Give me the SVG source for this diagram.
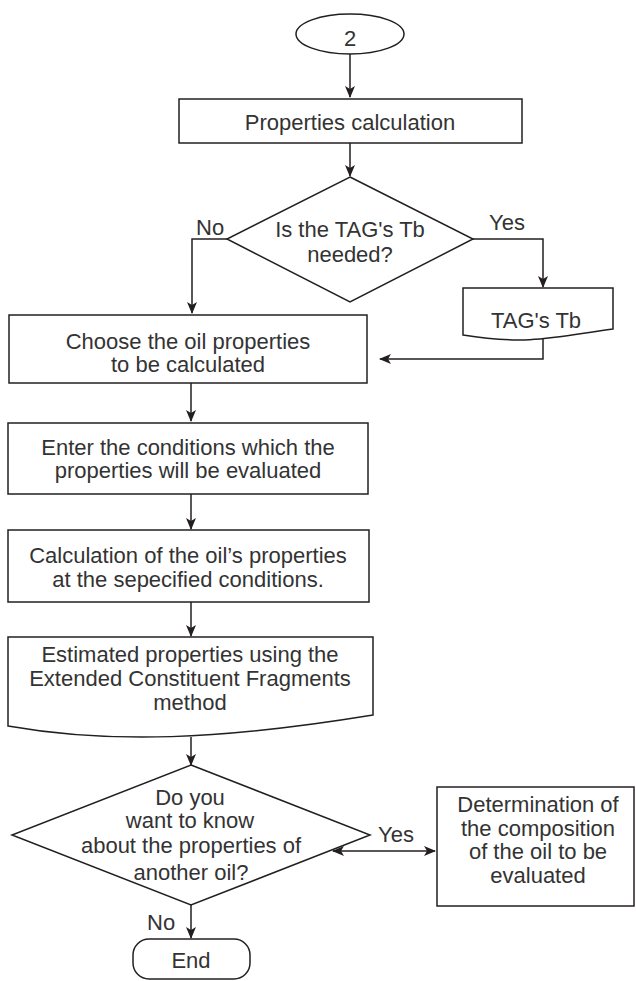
<svg xmlns="http://www.w3.org/2000/svg" width="636" height="981" viewBox="0 0 636 981">
<defs>
<style>
.s{fill:#fff;stroke:#231f20;stroke-width:1.5}
.c{fill:none;stroke:#231f20;stroke-width:1.5}
text{font-family:"Liberation Sans",Arial,sans-serif;font-size:22px;fill:#333;text-anchor:middle}
.l{text-anchor:start}
</style>
<marker id="ah" markerUnits="userSpaceOnUse" markerWidth="12" markerHeight="10" refX="11" refY="5" orient="auto-start-reverse" viewBox="0 0 12 10">
<path d="M0,0 L12,5 L0,10 L3,5 Z" fill="#231f20"/>
</marker>
</defs>
<rect width="636" height="981" fill="#fff"/>
<g id="connectors">
<line class="c" x1="350" y1="54" x2="350" y2="97" marker-end="url(#ah)"/>
<line class="c" x1="350" y1="143" x2="350" y2="176" marker-end="url(#ah)"/>
<polyline class="c" points="227,239 192,239 192,313" marker-end="url(#ah)"/>
<polyline class="c" points="473,239 543,239 543,287" marker-end="url(#ah)"/>
<polyline class="c" points="543,339 543,359 380,359" marker-end="url(#ah)"/>
<line class="c" x1="191" y1="383" x2="191" y2="421" marker-end="url(#ah)"/>
<line class="c" x1="191" y1="494" x2="191" y2="529" marker-end="url(#ah)"/>
<line class="c" x1="191" y1="602" x2="191" y2="636" marker-end="url(#ah)"/>
<line class="c" x1="191" y1="737" x2="191" y2="765" marker-end="url(#ah)"/>
<line class="c" x1="333" y1="851" x2="435" y2="851" marker-start="url(#ah)" marker-end="url(#ah)"/>
<line class="c" x1="191" y1="905" x2="191" y2="938" marker-end="url(#ah)"/>
<text class="l" x="196" y="235">No</text>
<text class="l" x="489" y="230">Yes</text>
<text class="l" x="378" y="842">Yes</text>
<text class="l" x="147" y="930">No</text>
</g>
<g id="start">
<ellipse class="s" cx="350" cy="34" rx="54" ry="20"/>
<text x="350" y="46">2</text>
</g>
<g id="props">
<rect class="s" x="179" y="99" width="343" height="44"/>
<text x="350" y="130">Properties calculation</text>
</g>
<g id="dec1">
<polygon class="s" points="350,177 473,239 350,302 227,239"/>
<text x="350" y="237">Is the TAG's Tb</text>
<text x="350" y="262">needed?</text>
</g>
<g id="tagtb">
<path class="s" d="M463,288 H613 V329 C560,336 530,346 463,335 Z"/>
<text x="536" y="328">TAG's Tb</text>
</g>
<g id="choose">
<rect class="s" x="9" y="315" width="358" height="68"/>
<text x="188" y="349">Choose the oil properties</text>
<text x="188" y="372">to be calculated</text>
</g>
<g id="enter">
<rect class="s" x="8" y="423" width="360" height="71"/>
<text x="188" y="455">Enter the conditions which the</text>
<text x="188" y="478">properties will be evaluated</text>
</g>
<g id="calc">
<rect class="s" x="8" y="530" width="361" height="72"/>
<text x="188" y="563">Calculation of the oil’s properties</text>
<text x="188" y="587">at the sepecified conditions.</text>
</g>
<g id="estimated">
<path class="s" d="M8,637 H373 V715 C220,740 110,744 8,726 Z"/>
<text x="190" y="662">Estimated properties using the</text>
<text x="190" y="686">Extended Constituent Fragments</text>
<text x="190" y="710">method</text>
</g>
<g id="dec2">
<polygon class="s" points="191,765 370,835 191,905 12,835"/>
<text x="190" y="805">Do you</text>
<text x="190" y="828">want to know</text>
<text x="191" y="853">about the properties of</text>
<text x="191" y="880">another oil?</text>
</g>
<g id="determination">
<rect class="s" x="437" y="787" width="197" height="119"/>
<text x="538" y="812">Determination of</text>
<text x="538" y="836">the composition</text>
<text x="538" y="859">of the oil to be</text>
<text x="538" y="883">evaluated</text>
</g>
<g id="end">
<rect class="s" x="133" y="939" width="117" height="40" rx="16"/>
<text x="191" y="968">End</text>
</g>
</svg>
